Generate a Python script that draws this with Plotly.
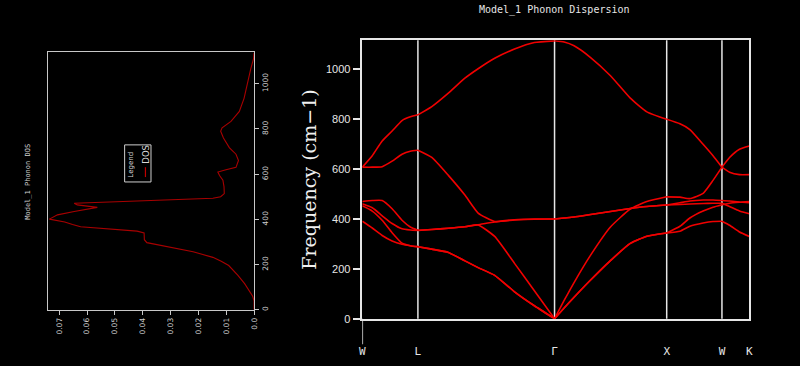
import plotly.graph_objects as go

# ---------------- data ----------------
# k-path distance (arbitrary units) along W-L-Γ-X-W-K
k_path = [0, 30, 60, 90, 120, 145, 168, 210, 260, 310, 350, 400, 460, 520, 581,
          610, 640, 690, 750, 810, 860, 920, 960, 990, 1030, 1060, 1087, 1110, 1140, 1170]
sym_k = [0, 168, 581, 920, 1087, 1170]
sym_labels = ["W", "L", "Γ", "X", "W", "K"]

band1 = [391, 364, 334, 312, 299, 293, 289, 279, 266, 232, 205, 174, 108, 52, 0,
         43, 86, 155, 233, 302, 331, 344, 351, 371, 384, 390, 391, 375, 348, 330]
band2 = [453, 432, 395, 345, 303, 293, 289, 279, 266, 232, 205, 174, 108, 52, 0,
         43, 86, 155, 233, 302, 331, 344, 371, 404, 432, 447, 457, 463, 467, 470]
band3 = [461, 445, 413, 382, 361, 356, 354, 358, 363, 369, 376, 330, 222, 112, 0,
         73, 145, 255, 368, 440, 470, 489, 488, 482, 503, 555, 608, 647, 680, 693]
band4 = [470, 474, 474, 441, 395, 368, 355, 358, 363, 369, 377, 388, 397, 400, 400,
         404, 408, 418, 430, 442, 450, 456, 458, 460, 462, 463, 463, 450, 432, 421]
band5 = [608, 608, 610, 632, 660, 672, 676, 647, 575, 496, 424, 390, 396, 399, 400,
         404, 408, 418, 430, 442, 450, 456, 465, 472, 476, 476, 474, 472, 468, 465]
band6 = [608, 654, 713, 753, 795, 810, 818, 851, 905, 965, 1003, 1045, 1082, 1108, 1115,
         1110, 1095, 1048, 975, 885, 830, 800, 782, 759, 700, 654, 608, 588, 578, 578]
bands = [band1, band2, band3, band4, band5, band6]

freq_ticks = [0, 200, 400, 600, 800, 1000]

dos_freq = [0, 40, 60, 80, 116, 152, 181, 196, 215, 232, 257, 275, 290, 297, 310,
            340, 348, 367, 377, 388, 401, 410, 420, 435, 453, 464, 471, 477, 483, 493,
            500, 514, 545, 573, 594, 609, 619, 630, 660, 688, 717, 760, 790, 805, 833,
            877, 935, 1022, 1065, 1109, 1138]
dos_val = [0, 0, 0.0005, 0.0015, 0.0034, 0.0058, 0.0080, 0.0091, 0.0118, 0.0148,
           0.0219, 0.029, 0.036, 0.0385, 0.0394, 0.0395, 0.042, 0.0623, 0.0652, 0.068,
           0.0735, 0.072, 0.0706, 0.0646, 0.0563, 0.0635, 0.0646, 0.052, 0.0385, 0.0148,
           0.012, 0.0107, 0.0108, 0.0112, 0.0124, 0.0130, 0.0101, 0.0065, 0.0056, 0.0065,
           0.0089, 0.0110, 0.0120, 0.0115, 0.0083, 0.0053, 0.0036, 0.0021, 0.0012, 0.0002, 0]
dos_ticks = [0, 0.01, 0.02, 0.03, 0.04, 0.05, 0.06, 0.07]
dos_ticktext = ["0.0", "0.01", "0.02", "0.03", "0.04", "0.05", "0.06", "0.07"]

# ---------------- figure ----------------
W, H = 800, 366
def px(x):
    return x / W
def py(y):
    return 1 - y / H

fig = go.Figure()
# draw each band segment between high-symmetry points as a smooth curve
sym_idx = [k_path.index(s) for s in sym_k]
for b in bands:
    for i0, i1 in zip(sym_idx[:-1], sym_idx[1:]):
        fig.add_trace(go.Scatter(x=k_path[i0:i1 + 1], y=b[i0:i1 + 1], mode="lines",
                                 line=dict(color="#f00000", width=1.6, shape="spline",
                                           smoothing=0.5),
                                 showlegend=False, hoverinfo="skip", xaxis="x", yaxis="y"))

fig.add_trace(go.Scatter(x=dos_val, y=dos_freq, mode="lines",
                         line=dict(color="#a80000", width=1.1),
                         showlegend=False, hoverinfo="skip", xaxis="x2", yaxis="y2"))

mono = "DejaVu Sans Mono"
shapes = []
for kk in sym_k[1:-1]:
    shapes.append(dict(type="line", xref="x", yref="y domain", x0=kk, x1=kk, y0=0, y1=1,
                       line=dict(color="#e6e6e6", width=1.5), layer="below"))
shapes.append(dict(type="line", xref="x", yref="paper", x0=sym_k[0], x1=sym_k[0],
                   y0=py(350), y1=py(324), line=dict(color="#e6e6e6", width=1.5)))
shapes.append(dict(type="rect", xref="paper", yref="paper", x0=px(122.7), x1=px(149.3),
                   y0=py(185), y1=py(147.3), line=dict(color="#cfcfcf", width=1)))
shapes.append(dict(type="line", xref="paper", yref="paper", x0=px(143.7), x1=px(143.7),
                   y0=py(180), y1=py(170), line=dict(color="#c00000", width=1.2)))

annotations = [
    dict(text="Model_1 Phonon Dispersion", x=px(556.7), y=py(10), xref="paper", yref="paper",
         xanchor="center", yanchor="middle",
         showarrow=False, font=dict(family=mono, size=10, color="#e6e6e6")),
    dict(text="Model_1 Phonon DOS", x=px(25), y=py(185), xref="paper", yref="paper",
         xanchor="center", yanchor="middle",
         textangle=-90, showarrow=False, font=dict(family=mono, size=7, color="#d0d0d0")),
    dict(text="Legend", x=px(129.5), y=py(167), xref="paper", yref="paper",
         xanchor="center", yanchor="middle",
         textangle=-90, showarrow=False, font=dict(family="DejaVu Sans", size=7, color="#d8d8d8")),
    dict(text="DOS", x=px(144.5), y=py(157), xref="paper", yref="paper",
         xanchor="center", yanchor="middle",
         textangle=-90, showarrow=False, font=dict(family="DejaVu Sans", size=8.5, color="#d8d8d8")),
]

fig.update_layout(
    width=W, height=H, margin=dict(l=0, r=0, t=0, b=0),
    paper_bgcolor="black", plot_bgcolor="black",
    showlegend=False,
    shapes=shapes, annotations=annotations,
    xaxis=dict(domain=[px(362.5), px(753)], range=[sym_k[0], sym_k[-1]],
               tickvals=sym_k, ticktext=sym_labels, ticks="",
               ticklabelstandoff=21,
               tickfont=dict(family=mono, size=11, color="#e6e6e6"),
               showline=True, linecolor="#e6e6e6", linewidth=1.5, mirror=True,
               showgrid=False, zeroline=False, fixedrange=True),
    yaxis=dict(domain=[py(324), py(41)], range=[0, 1117],
               tickvals=freq_ticks, ticks="outside", ticklen=8, tickwidth=1.5,
               tickcolor="#e6e6e6",
               tickfont=dict(family="Liberation Sans", size=11, color="#e6e6e6"),
               showline=True, linecolor="#e6e6e6", linewidth=1.5, mirror=True,
               showgrid=False, zeroline=False,
               title=dict(text="Frequency (cm\u22121)", standoff=4,
                          font=dict(family="DejaVu Serif", size=19, color="#f0f0f0"))),
    xaxis2=dict(domain=[px(45.7), px(253.3)], range=[0.0739, 0], anchor="y2",
                tickvals=dos_ticks, ticktext=dos_ticktext, tickangle=-90,
                ticks="outside", ticklen=4, tickcolor="#c8c8c8",
                tickfont=dict(family="DejaVu Sans", size=7.5, color="#cfcfcf"),
                showline=True, linecolor="#c8c8c8", linewidth=1, mirror=True,
                showgrid=False, zeroline=False),
    yaxis2=dict(domain=[py(315), py(53.3)], range=[0, 1138], anchor="x2", side="right",
                tickvals=freq_ticks, tickangle=-90,
                ticks="outside", ticklen=4, tickcolor="#c8c8c8",
                tickfont=dict(family="DejaVu Sans", size=7.5, color="#cfcfcf"),
                showline=True, linecolor="#c8c8c8", linewidth=1, mirror=True,
                showgrid=False, zeroline=False),
)

fig.write_html("out.html")
